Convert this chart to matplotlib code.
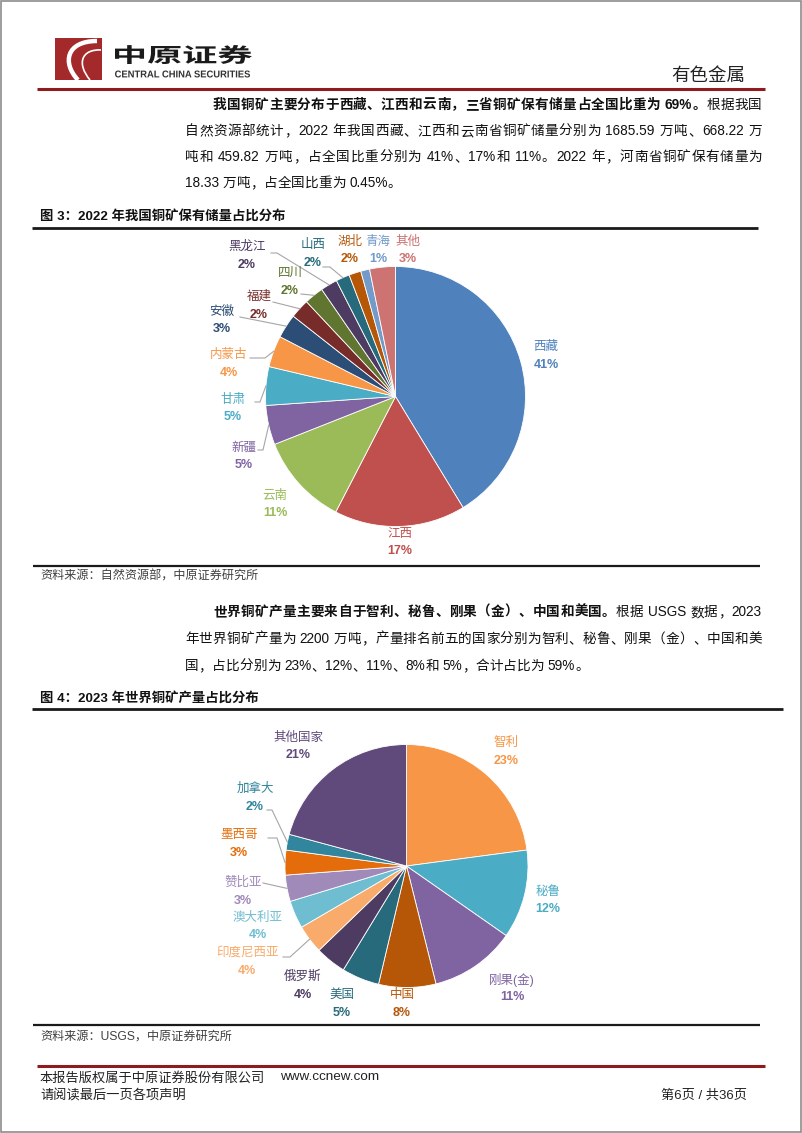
import matplotlib

matplotlib.use("Agg")
import matplotlib.pyplot as plt
import numpy as np
from matplotlib.font_manager import FontProperties
from matplotlib.patches import PathPatch, Rectangle
from matplotlib.path import Path
from matplotlib.textpath import TextPath
from matplotlib.transforms import Affine2D

W, H = 802, 1133
FONTS = ["Liberation Sans", "Noto Sans CJK SC"]
plt.rcParams["font.family"] = FONTS

BRAND_RED = "#8E1B1E"
LEADER_GRAY = "#A6A6A6"
TEXT_COLOR = "#111111"

# 图3: 2022 年我国铜矿保有储量占比分布 (%)
RESERVE_REGIONS = ["西藏", "江西", "云南", "新疆", "甘肃", "内蒙古", "安徽",
                   "福建", "四川", "黑龙江", "山西", "湖北", "青海", "其他"]
RESERVE_SHARE = [41.3, 16.3, 11.4, 4.9, 4.8, 3.9, 3.0, 2.4, 2.4, 2.1, 1.7, 1.5, 1.1, 3.2]
RESERVE_PCT = ["41%", "17%", "11%", "5%", "5%", "4%", "3%", "2%", "2%", "2%", "2%", "2%", "1%", "3%"]
RESERVE_COLORS = ["#4F81BD", "#C0504D", "#9BBB59", "#8064A2", "#4BACC6", "#F79646", "#2C4D75",
                  "#772C2A", "#5F7530", "#4D3B62", "#276A7C", "#B65708", "#729ACA", "#CD7371"]

# 图4: 2023 年世界铜矿产量占比分布 (%)
OUTPUT_COUNTRIES = ["智利", "秘鲁", "刚果(金)", "中国", "美国", "俄罗斯", "印度尼西亚",
                    "澳大利亚", "赞比亚", "墨西哥", "加拿大", "其他国家"]
OUTPUT_SHARE = [22.9, 11.8, 11.4, 7.6, 5.0, 4.1, 3.8, 3.7, 3.5, 3.3, 2.1, 20.8]
OUTPUT_PCT = ["23%", "12%", "11%", "8%", "5%", "4%", "4%", "4%", "3%", "3%", "2%", "21%"]
OUTPUT_COLORS = ["#F79646", "#4BACC6", "#8064A2", "#B65708", "#276A7C", "#4D3B62", "#F9AB6B",
                 "#6FBDD1", "#9F8AB9", "#E46C0A", "#31859C", "#604A7B"]

# label anchor (name line) per slice, page pixels
RESERVE_LABEL_POS = [(546, 347), (400, 534), (275, 496), (244, 448), (233, 400), (229, 355),
                     (222, 312), (259, 297), (290, 273), (247, 247), (313, 245), (350, 242),
                     (378, 242), (408, 242)]
RESERVE_LEADERS = {3: [(258, 450), (263, 450)], 4: [(255, 402), (260, 402)],
                   5: [(250, 358), (265, 358)], 6: [(240, 317)], 7: [(273, 302)],
                   8: [(301, 294)], 9: [(271, 253), (277, 253)], 10: [(323, 267), (330, 267)]}
OUTPUT_LABEL_POS = [(506, 743), (548, 892), (512, 980), (402, 995), (342, 995), (303, 977),
                    (247, 953), (258, 918), (243, 883), (239, 835), (255, 789), (298, 738)]
OUTPUT_LEADERS = {6: [(283, 957), (290, 957)], 8: [(263, 883)],
                  9: [(268, 838), (277, 838)], 10: [(267, 810), (272, 810)]}

BODY_SIZE = 9.8
LEFT, RIGHT, INDENT = 185, 762, 213

# paragraph lines: list of (segments, justified); segment = (text, bold)
PARA1 = [
    ([("我国铜矿主要分布于西藏、江西和云南，三省铜矿保有储量占全国比重为 69%。", True), ("根据我国", False)], True),
    ([("自然资源部统计，2022 年我国西藏、江西和云南省铜矿储量分别为 1685.59 万吨、668.22 万", False)], True),
    ([("吨和 459.82 万吨，占全国比重分别为 41%、17%和 11%。2022 年，河南省铜矿保有储量为", False)], True),
    ([("18.33 万吨，占全国比重为 0.45%。", False)], False),
]
PARA2 = [
    ([("世界铜矿产量主要来自于智利、秘鲁、刚果（金）、中国和美国。", True), ("根据 USGS 数据，2023", False)], True),
    ([("年世界铜矿产量为 2200 万吨，产量排名前五的国家分别为智利、秘鲁、刚果（金）、中国和美", False)], True),
    ([("国，占比分别为 23%、12%、11%、8%和 5%，合计占比为 59%。", False)], False),
]


def draw_pie(ax, values, colors, names, pcts, center, radius, label_pos, leaders):
    # y axis is inverted, so counterclockwise in data reads clockwise on the page
    wedges, _ = ax.pie(values, colors=colors, startangle=-90, counterclock=True,
                       center=center, radius=radius,
                       wedgeprops=dict(edgecolor="white", linewidth=0.6))
    for i, wedge in enumerate(wedges):
        x, y = label_pos[i]
        ax.text(x, y, names[i], color=colors[i], fontsize=9, fontweight="medium",
                ha="center", va="center")
        ax.text(x, y + 17.5, pcts[i], color=colors[i], fontsize=9, fontweight="bold",
                ha="center", va="center")
        if i in leaders:
            mid = np.deg2rad((wedge.theta1 + wedge.theta2) / 2)
            end = (center[0] + radius * np.cos(mid), center[1] + radius * np.sin(mid))
            pts = leaders[i] + [end]
            ax.plot([p[0] for p in pts], [p[1] for p in pts], color=LEADER_GRAY, lw=0.8)


def fit_text_path(ax, text, box, prop, color):
    x0, y0, x1, y1 = box
    tp = TextPath((0, 0), text, size=20, prop=prop)
    ext = tp.get_extents()
    sx = (x1 - x0) / ext.width
    sy = (y1 - y0) / ext.height
    tr = Affine2D().translate(-ext.x0, -ext.y0).scale(sx, -sy).translate(x0, y1)
    ax.add_patch(PathPatch(tr.transform_path(tp), facecolor=color, edgecolor="none"))


def split_tokens(text):
    """CJK chars one by one; runs of latin letters/digits kept together."""
    tokens, run = [], ""
    for ch in text:
        if ch.isascii() and ch != " ":
            run += ch
            continue
        if run:
            tokens.append(run)
            run = ""
        tokens.append(ch)
    if run:
        tokens.append(run)
    return tokens


def text_width(renderer, s, prop):
    if s == " ":
        w2 = renderer.get_text_width_height_descent("x x", prop, ismath=False)[0]
        w1 = renderer.get_text_width_height_descent("xx", prop, ismath=False)[0]
        return w2 - w1
    return renderer.get_text_width_height_descent(s, prop, ismath=False)[0]


def draw_line(fig, ax, x0, y, segments, justify, size):
    renderer = fig.canvas.get_renderer()
    items = []
    for text, bold in segments:
        prop = FontProperties(family=FONTS, size=size, weight="bold" if bold else "normal")
        for tok in split_tokens(text):
            # pixel widths -> page units (1:1 at dpi 100)
            items.append((tok, bold, text_width(renderer, tok, prop) * 72 / fig.dpi * 100 / 72))
    total = sum(w for _, _, w in items)
    gap = (RIGHT - x0 - total) / (len(items) - 1) if justify and len(items) > 1 else 0.0
    x = x0
    for tok, bold, w in items:
        if tok != " ":
            ax.text(x, y, tok, fontsize=size, fontweight="bold" if bold else "normal",
                    va="center", ha="left", color=TEXT_COLOR)
        x += w + gap


def main():
    fig = plt.figure(figsize=(W / 100, H / 100), dpi=100)
    ax = fig.add_axes([0, 0, 1, 1])

    draw_pie(ax, RESERVE_SHARE, RESERVE_COLORS, RESERVE_REGIONS, RESERVE_PCT,
             (395.5, 396.5), 130, RESERVE_LABEL_POS, RESERVE_LEADERS)
    draw_pie(ax, OUTPUT_SHARE, OUTPUT_COLORS, OUTPUT_COUNTRIES, OUTPUT_PCT,
             (406.5, 866), 121.5, OUTPUT_LABEL_POS, OUTPUT_LEADERS)

    ax.set_xlim(0, W)
    ax.set_ylim(H, 0)
    ax.axis("off")

    # page frame
    ax.add_patch(Rectangle((0.8, 0.8), W - 1.6, H - 1.6, fill=False, edgecolor="#8C8C8C", lw=1.2))

    # header: logo + brand
    ax.add_patch(Rectangle((55, 38), 47, 42, facecolor="#A3292B", edgecolor="none"))
    swoosh = Path([(97, 41), (66, 41), (62, 63), (78, 80)],
                  [Path.MOVETO, Path.CURVE4, Path.CURVE4, Path.CURVE4])
    ax.add_patch(PathPatch(swoosh, facecolor="none", edgecolor="white", lw=3.2))
    swoosh2 = Path([(101, 50), (82, 49), (76, 63), (90, 80)],
                   [Path.MOVETO, Path.CURVE4, Path.CURVE4, Path.CURVE4])
    ax.add_patch(PathPatch(swoosh2, facecolor="none", edgecolor="white", lw=1.2))
    fit_text_path(ax, "中原证券", (115, 45, 252, 64),
                  FontProperties(family="Noto Sans CJK SC", weight="bold"), "#1A1A1A")
    fit_text_path(ax, "CENTRAL CHINA SECURITIES", (115, 70.5, 250, 77.5),
                  FontProperties(family="Liberation Sans", weight="bold"), "#333333")
    ax.text(745, 76, "有色金属", fontsize=13.3, ha="right", va="center", color="#222222")
    ax.plot([37, 765], [89, 89], color=BRAND_RED, lw=2.2, solid_capstyle="butt")

    for k, (segments, justify) in enumerate(PARA1):
        draw_line(fig, ax, INDENT if k == 0 else LEFT, 105 + 26 * k, segments, justify, BODY_SIZE)

    ax.text(40, 216, "图 3：2022 年我国铜矿保有储量占比分布", fontsize=9.6, fontweight="bold",
            va="center", color=TEXT_COLOR)
    ax.plot([32, 758], [227.5, 227.5], color="#1A1A1A", lw=2.0, solid_capstyle="butt")
    ax.plot([33, 760], [566, 566], color="#1A1A1A", lw=1.6, solid_capstyle="butt")
    ax.text(40, 577, "资料来源：自然资源部，中原证券研究所", fontsize=8.7, va="center", color="#404040")

    for k, (segments, justify) in enumerate(PARA2):
        draw_line(fig, ax, INDENT if k == 0 else LEFT, 612 + 27 * k, segments, justify, BODY_SIZE)

    ax.text(40, 698, "图 4：2023 年世界铜矿产量占比分布", fontsize=9.6, fontweight="bold",
            va="center", color=TEXT_COLOR)
    ax.plot([32, 783], [708.5, 708.5], color="#1A1A1A", lw=2.0, solid_capstyle="butt")
    ax.plot([33, 760], [1025, 1025], color="#1A1A1A", lw=1.6, solid_capstyle="butt")
    ax.text(40, 1037, "资料来源：USGS，中原证券研究所", fontsize=8.7, va="center", color="#404040")

    # footer
    ax.plot([37, 765], [1066, 1066], color=BRAND_RED, lw=2.2, solid_capstyle="butt")
    ax.text(40, 1078, "本报告版权属于中原证券股份有限公司", fontsize=9.5, va="center", color="#222222")
    ax.text(280, 1077, "www.ccnew.com", fontsize=9.7, va="center", color="#222222")
    ax.text(40, 1096, "请阅读最后一页各项声明", fontsize=9.5, va="center", color="#222222")
    ax.text(747, 1096, "第6页 / 共36页", fontsize=9.5, ha="right", va="center", color="#222222")

    fig.savefig("out.png", dpi=100)
    plt.close(fig)


if __name__ == "__main__":
    main()
